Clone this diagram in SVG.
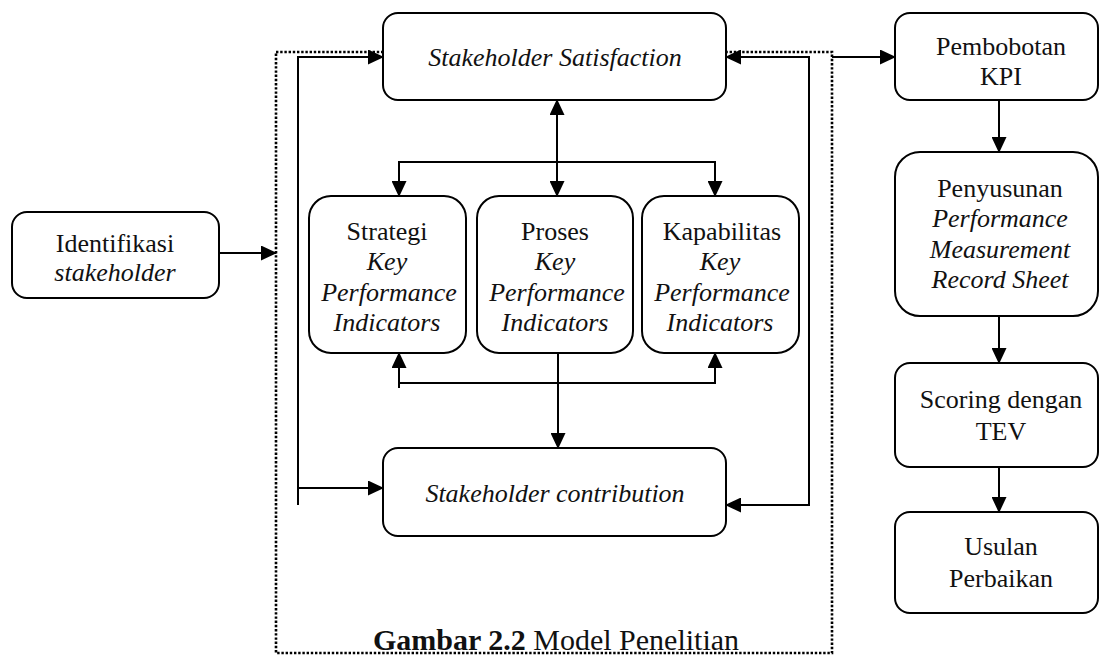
<svg xmlns="http://www.w3.org/2000/svg" width="1100" height="657" viewBox="0 0 1100 657">
<style>
.box{fill:#fff;stroke:#000;stroke-width:2}
.ln{fill:none;stroke:#000;stroke-width:2}
.dot{fill:none;stroke:#000;stroke-width:2.6;stroke-dasharray:2.4 1.8}
text{font-family:"Liberation Serif","Times New Roman",serif;font-size:26px;fill:#111;text-anchor:middle}
.i{font-style:italic}
.title{text-anchor:start;font-size:30px}
</style>
<defs>
<marker id="ah" markerUnits="userSpaceOnUse" markerWidth="16" markerHeight="15" refX="15" refY="7.5" orient="auto-start-reverse" viewBox="0 0 16 15">
<path d="M0,0 L16,7.5 L0,15 z" fill="#000"/>
</marker>
</defs>
<rect x="0" y="0" width="1100" height="657" fill="#fff"/>
<g id="frame">
<rect class="dot" x="276" y="52" width="556" height="601"/>
</g>
<g id="connectors">
<line class="ln" x1="219" y1="253" x2="276" y2="253" marker-end="url(#ah)"/>
<polyline class="ln" points="298,505 298,57 383,57" marker-end="url(#ah)"/>
<line class="ln" x1="298" y1="488" x2="383" y2="488" marker-end="url(#ah)"/>
<polyline class="ln" points="726,505 809,505 809,57 726,57" marker-start="url(#ah)" marker-end="url(#ah)"/>
<line class="ln" x1="832" y1="57" x2="895" y2="57" marker-end="url(#ah)"/>
<line class="ln" x1="557" y1="100" x2="557" y2="196" marker-start="url(#ah)" marker-end="url(#ah)"/>
<polyline class="ln" points="399,196 399,162 715,162 715,196" marker-start="url(#ah)" marker-end="url(#ah)"/>
<polyline class="ln" points="399,353 399,383 715,383 715,353" marker-start="url(#ah)" marker-end="url(#ah)"/>
<line class="ln" x1="399" y1="383" x2="399" y2="388"/>
<line class="ln" x1="558" y1="353" x2="558" y2="448" marker-end="url(#ah)"/>
<line class="ln" x1="999" y1="100" x2="999" y2="152" marker-end="url(#ah)"/>
<line class="ln" x1="999" y1="316" x2="999" y2="363" marker-end="url(#ah)"/>
<line class="ln" x1="999" y1="467" x2="999" y2="512" marker-end="url(#ah)"/>
</g>
<g id="identifikasi">
<rect class="box" x="12" y="212" width="207" height="86" rx="15"/>
<text x="115" y="252">Identifikasi</text>
<text class="i" x="115" y="281">stakeholder</text>
</g>
<g id="satisfaction">
<rect class="box" x="383" y="13" width="343" height="87" rx="15"/>
<text class="i" x="555" y="66">Stakeholder Satisfaction</text>
</g>
<g id="strategi">
<rect class="box" x="309" y="196" width="157" height="157" rx="22"/>
<text x="387" y="240">Strategi</text>
<text class="i" x="387" y="270">Key</text>
<text class="i" x="389" y="301">Performance</text>
<text class="i" x="387" y="331">Indicators</text>
</g>
<g id="proses">
<rect class="box" x="477" y="196" width="156" height="157" rx="22"/>
<text x="555" y="240">Proses</text>
<text class="i" x="555" y="270">Key</text>
<text class="i" x="557" y="301">Performance</text>
<text class="i" x="555" y="331">Indicators</text>
</g>
<g id="kapabilitas">
<rect class="box" x="642" y="196" width="157" height="157" rx="22"/>
<text x="722" y="240">Kapabilitas</text>
<text class="i" x="720" y="270">Key</text>
<text class="i" x="722" y="301">Performance</text>
<text class="i" x="720" y="331">Indicators</text>
</g>
<g id="contribution">
<rect class="box" x="383" y="448" width="343" height="88" rx="15"/>
<text class="i" x="555" y="502">Stakeholder contribution</text>
</g>
<g id="pembobotan">
<rect class="box" x="895" y="13" width="203" height="87" rx="15"/>
<text x="1001" y="55">Pembobotan</text>
<text x="1001" y="85">KPI</text>
</g>
<g id="penyusunan">
<rect class="box" x="895" y="152" width="203" height="164" rx="25"/>
<text x="1000" y="197">Penyusunan</text>
<text class="i" x="1000" y="227">Performance</text>
<text class="i" x="1000" y="258">Measurement</text>
<text class="i" x="1000" y="288">Record Sheet</text>
</g>
<g id="scoring">
<rect class="box" x="895" y="363" width="203" height="104" rx="15"/>
<text x="1001" y="408">Scoring dengan</text>
<text x="1001" y="440">TEV</text>
</g>
<g id="usulan">
<rect class="box" x="895" y="512" width="203" height="101" rx="15"/>
<text x="1001" y="555">Usulan</text>
<text x="1001" y="587">Perbaikan</text>
</g>
<g id="caption">
<text class="title" x="373" y="650"><tspan font-weight="bold">Gambar 2.2</tspan> Model Penelitian</text>
</g>
</svg>
